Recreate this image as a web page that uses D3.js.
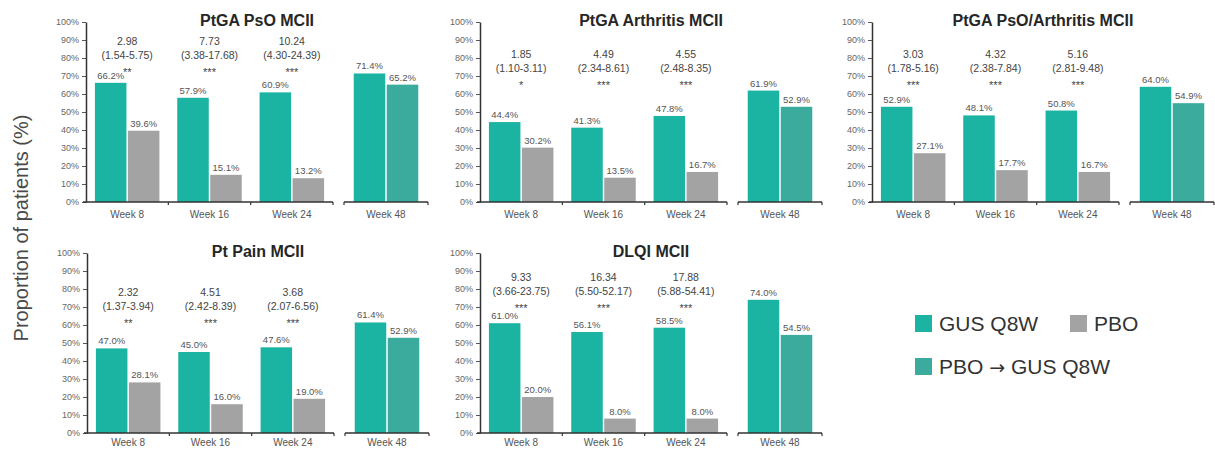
<!DOCTYPE html>
<html>
<head>
<meta charset="utf-8">
<script src="https://cdn.jsdelivr.net/npm/d3@7"></script>
<style>
  html, body { margin: 0; padding: 0; background: #fff; }
  svg { display: block; font-family: "Liberation Sans", Arial, sans-serif; }
</style>
</head>
<body>
<svg id="chart" width="1215" height="452"></svg>
<script>
// ---- Data ----
const panelTitles = ["PtGA PsO MCII", "PtGA Arthritis MCII", "PtGA PsO/Arthritis MCII", "Pt Pain MCII", "DLQI MCII"];
const weeks = ["Week 8", "Week 16", "Week 24"];
const extensionWeek = ["Week 48"];
const groups = ["GUS Q8W", "PBO"];
const extensionGroups = ["GUS Q8W", "PBO \u2192 GUS Q8W"];

// Percentage of responders per panel, weeks 8/16/24
const gusValues = [
  [66.2, 57.9, 60.9],
  [44.4, 41.3, 47.8],
  [52.9, 48.1, 50.8],
  [47.0, 45.0, 47.6],
  [61.0, 56.1, 58.5]
];
const pboValues = [
  [39.6, 15.1, 13.2],
  [30.2, 13.5, 16.7],
  [27.1, 17.7, 16.7],
  [28.1, 16.0, 19.0],
  [20.0, 8.0, 8.0]
];
// Week 48 values per panel
const week48Gus = [71.4, 61.9, 64.0, 61.4, 74.0];
const week48Switch = [65.2, 52.9, 54.9, 52.9, 54.5];

// Odds ratios, 95% CI and significance markers
const oddsRatios = [
  ["2.98", "7.73", "10.24"],
  ["1.85", "4.49", "4.55"],
  ["3.03", "4.32", "5.16"],
  ["2.32", "4.51", "3.68"],
  ["9.33", "16.34", "17.88"]
];
const confIntervals = [
  ["(1.54-5.75)", "(3.38-17.68)", "(4.30-24.39)"],
  ["(1.10-3.11)", "(2.34-8.61)", "(2.48-8.35)"],
  ["(1.78-5.16)", "(2.38-7.84)", "(2.81-9.48)"],
  ["(1.37-3.94)", "(2.42-8.39)", "(2.07-6.56)"],
  ["(3.66-23.75)", "(5.50-52.17)", "(5.88-54.41)"]
];
const significance = [
  ["**", "***", "***"],
  ["*", "***", "***"],
  ["***", "***", "***"],
  ["**", "***", "***"],
  ["***", "***", "***"]
];
const yTicks = [0, 10, 20, 30, 40, 50, 60, 70, 80, 90, 100];

// ---- Layout ----
const COLORS = { gus: "#1bb3a1", pbo: "#a3a3a3", sw: "#3aab9c" };
const panelLayout = [
  { x: 86,  y: 22,  odds: 19, weekDy: 16 },
  { x: 480, y: 22,  odds: 32, weekDy: 16 },
  { x: 872, y: 22,  odds: 32, weekDy: 16 },
  { x: 87,  y: 253, odds: 39, weekDy: 13 },
  { x: 480, y: 253, odds: 24, weekDy: 13 }
];
const PLOT_H = 180;
const MAIN_W = 247;
const EXT_START = 258, EXT_END = 342;

const svg = d3.select("#chart");

// y-axis title
svg.append("text")
  .attr("transform", "translate(28,228) rotate(-90)")
  .attr("text-anchor", "middle")
  .attr("font-size", 20)
  .attr("fill", "#4a4a4a")
  .text("Proportion of patients (%)");

panelTitles.forEach((title, p) => {
  const L = panelLayout[p];
  const g = svg.append("g").attr("transform", `translate(${L.x},${L.y})`);

  const y = d3.scaleLinear().domain([0, 100]).range([PLOT_H, 0]);
  const x = d3.scaleBand().domain(weeks).range([0, MAIN_W]).padding(0);
  const xs = d3.scaleBand().domain(groups).range([0, x.bandwidth()])
    .paddingInner(0.045).paddingOuter(0.27);
  const x48 = d3.scaleBand().domain(extensionWeek).range([EXT_START, EXT_END]).padding(0);
  const xs48 = d3.scaleBand().domain(extensionGroups).range([0, x48.bandwidth()])
    .paddingInner(0.045).paddingOuter(0.295);

  // y axis
  const yAxis = g.append("g")
    .call(d3.axisLeft(y).tickValues(yTicks).tickFormat(d => d + "%").tickSize(4).tickSizeOuter(0));
  yAxis.select(".domain").attr("stroke", "#333").attr("stroke-width", 1.5);
  yAxis.selectAll(".tick line").attr("stroke", "#555");
  yAxis.selectAll(".tick text").attr("font-size", 9).attr("fill", "#666").attr("x", -7)
    .attr("font-family", "Liberation Sans, Arial, sans-serif");

  // title
  g.append("text")
    .attr("x", 171).attr("y", 4)
    .attr("text-anchor", "middle")
    .attr("font-size", 16).attr("font-weight", "bold").attr("fill", "#262626")
    .text(title);

  // bars: weeks 8/16/24
  const rows = weeks.map((w, i) => ({ w, i, gus: gusValues[p][i], pbo: pboValues[p][i] }));
  rows.forEach(r => {
    const gx = x(r.w);
    [["GUS Q8W", r.gus, COLORS.gus], ["PBO", r.pbo, COLORS.pbo]].forEach(([k, v, c]) => {
      g.append("rect")
        .attr("x", gx + xs(k)).attr("y", y(v))
        .attr("width", xs.bandwidth()).attr("height", y(0) - y(v))
        .attr("fill", c);
      g.append("text")
        .attr("x", gx + xs(k) + xs.bandwidth() / 2).attr("y", y(v) - 4)
        .attr("text-anchor", "middle").attr("font-size", 9.5).attr("fill", "#555")
        .text(v.toFixed(1) + "%");
    });
    // odds ratio block
    const cx = gx + x.bandwidth() / 2;
    const lines = [oddsRatios[p][r.i], confIntervals[p][r.i]];
    lines.forEach((t, j) => {
      g.append("text")
        .attr("x", cx).attr("y", L.odds + 4 + j * 13.5)
        .attr("text-anchor", "middle").attr("font-size", 10.5).attr("fill", "#444")
        .text(t);
    });
    g.append("text")
      .attr("x", cx).attr("y", L.odds + 4 + 2 * 13.5 + 4)
      .attr("text-anchor", "middle").attr("font-size", 11).attr("fill", "#444")
      .text(significance[p][r.i]);
    // week label
    g.append("text")
      .attr("x", cx).attr("y", PLOT_H + L.weekDy)
      .attr("text-anchor", "middle").attr("font-size", 10).attr("fill", "#555")
      .text(r.w);
  });

  // bars: week 48
  const ext = [["GUS Q8W", week48Gus[p], COLORS.gus], ["PBO \u2192 GUS Q8W", week48Switch[p], COLORS.sw]];
  ext.forEach(([k, v, c]) => {
    const bx = x48("Week 48") + xs48(k);
    g.append("rect")
      .attr("x", bx).attr("y", y(v))
      .attr("width", xs48.bandwidth()).attr("height", y(0) - y(v))
      .attr("fill", c);
    g.append("text")
      .attr("x", bx + xs48.bandwidth() / 2).attr("y", y(v) - 4)
      .attr("text-anchor", "middle").attr("font-size", 9.5).attr("fill", "#555")
      .text(v.toFixed(1) + "%");
  });
  g.append("text")
    .attr("x", x48("Week 48") + x48.bandwidth() / 2).attr("y", PLOT_H + L.weekDy)
    .attr("text-anchor", "middle").attr("font-size", 10).attr("fill", "#555")
    .text("Week 48");

  // x axis for weeks 8-24 with ticks at group boundaries
  const xAxis = g.append("g").attr("transform", `translate(0,${PLOT_H})`);
  xAxis.append("line").attr("x1", -3).attr("x2", MAIN_W)
    .attr("stroke", "#333").attr("stroke-width", 1.5);
  const bounds = weeks.map(w => x(w)).concat([x(weeks[weeks.length - 1]) + x.bandwidth()]).slice(1);
  xAxis.selectAll("line.tk").data(bounds).join("line").attr("class", "tk")
    .attr("x1", d => d).attr("x2", d => d).attr("y1", 0).attr("y2", 3)
    .attr("stroke", "#333").attr("stroke-width", 1.2);

  // x axis for week 48
  const xAxis48 = g.append("g").attr("transform", `translate(0,${PLOT_H})`);
  xAxis48.append("line").attr("x1", EXT_START).attr("x2", EXT_END)
    .attr("stroke", "#333").attr("stroke-width", 1.5);
  xAxis48.selectAll("line.tk").data(x48.range()).join("line").attr("class", "tk")
    .attr("x1", d => d).attr("x2", d => d).attr("y1", 0).attr("y2", 3)
    .attr("stroke", "#333").attr("stroke-width", 1.2);
});

// ---- Legend ----
const legendItems = [
  { parts: ["GUS Q8W"], color: COLORS.gus, x: 915, y: 315 },
  { parts: ["PBO"], color: COLORS.pbo, x: 1070, y: 315 },
  { parts: ["PBO ", "\u2192", " GUS Q8W"], color: COLORS.sw, x: 915, y: 358 }
];
const legend = svg.append("g");
legendItems.forEach(it => {
  legend.append("rect").attr("x", it.x).attr("y", it.y).attr("width", 17).attr("height", 17).attr("fill", it.color);
  const t = legend.append("text").attr("x", it.x + 24).attr("y", it.y + 16)
    .attr("font-size", 21).attr("fill", "#333");
  it.parts.forEach(s => {
    const ts = t.append("tspan").text(s);
    if (s === "\u2192") ts.attr("font-family", "DejaVu Sans").attr("font-size", 19);
  });
});
</script>
</body>
</html>
